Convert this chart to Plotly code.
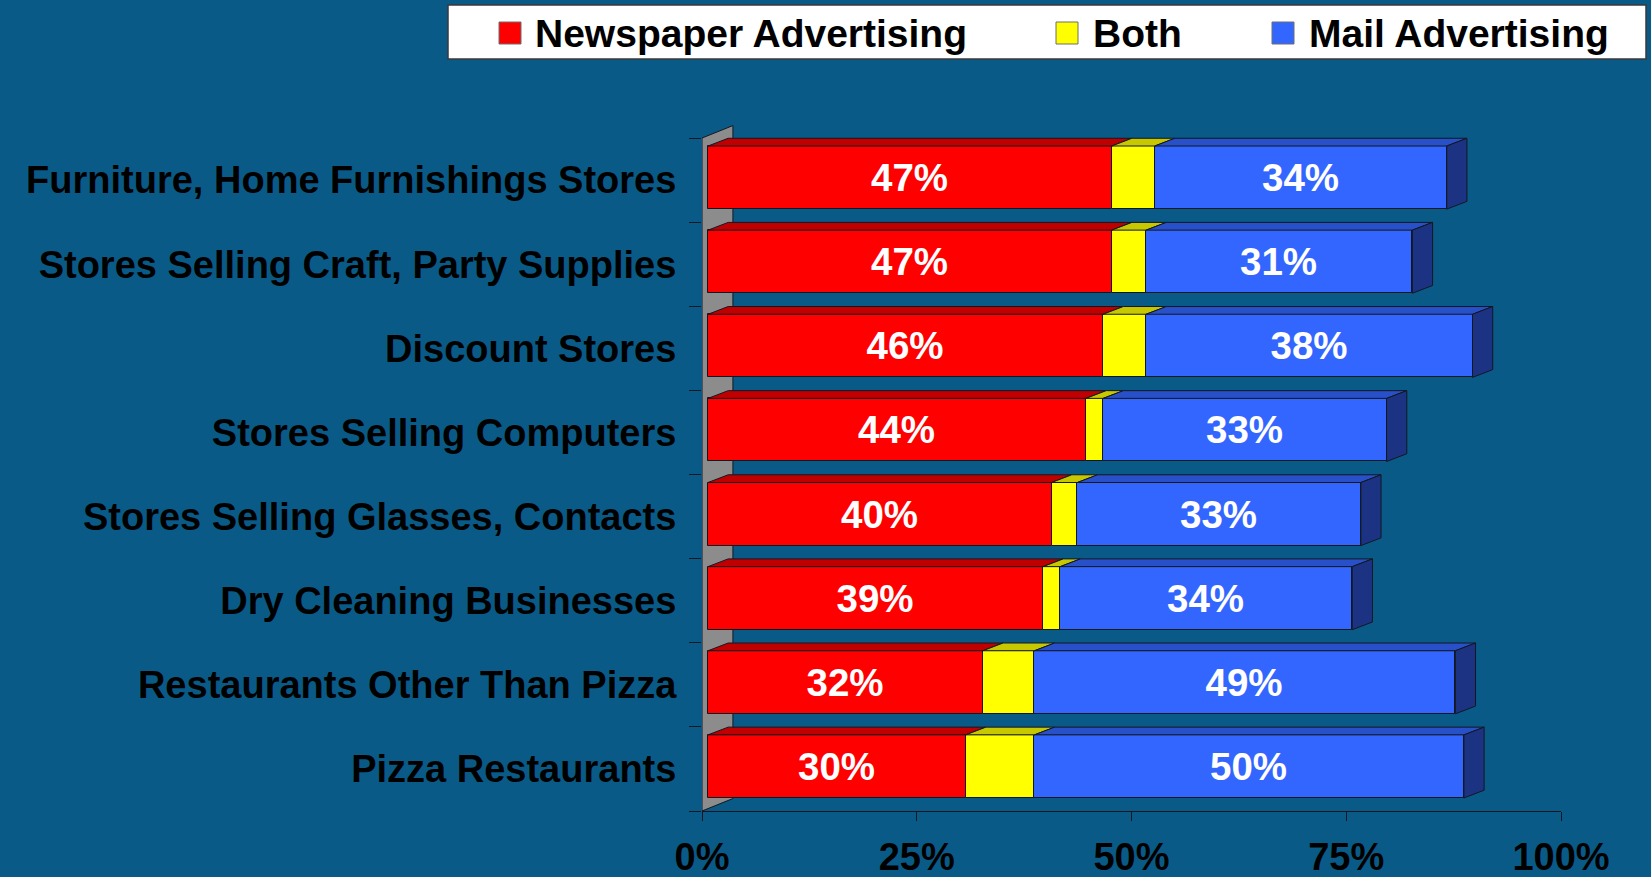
import plotly.graph_objects as go

# ---- data -------------------------------------------------------------
categories = [
    "Furniture, Home Furnishings Stores",
    "Stores Selling Craft, Party Supplies",
    "Discount Stores",
    "Stores Selling Computers",
    "Stores Selling Glasses, Contacts",
    "Dry Cleaning Businesses",
    "Restaurants Other Than Pizza",
    "Pizza Restaurants",
]
newspaper = [47, 47, 46, 44, 40, 39, 32, 30]
both = [5, 4, 5, 2, 3, 2, 6, 8]
mail = [34, 31, 38, 33, 33, 34, 49, 50]
series_names = ["Newspaper Advertising", "Both", "Mail Advertising"]
x_ticks = [0, 25, 50, 75, 100]
x_tick_labels = ["0%", "25%", "50%", "75%", "100%"]

# ---- styling ----------------------------------------------------------
W, H = 1651, 877
ML, MR, MT, MB = 702, 90, 117, 66
PW, PH = W - ML - MR, H - MT - MB
BG = "#0A5A87"
EDGE = "#131722"
WALL = "#8C8C8C"
FRONT = ["#FF0000", "#FFFF00", "#3366FF"]
TOP = ["#C00000", "#C8C800", "#2850C8"]
SIDE = "#1C3383"
FONT = "Liberation Sans, Arial, sans-serif"
FS = 38

# oblique projection of the depth axis, in data units
FRONT_DX, FRONT_DY = 0.7, 0.03     # front face of bars behind axis plane
DEPTH_DX, DEPTH_DY = 2.35, 0.092   # bar depth
WALL_DX, WALL_DY = 3.6, 0.148      # side wall depth
BAR_W = 0.75

n = len(categories)
pos = [n - 1 - i for i in range(n)]
Y_RANGE = [-0.5, n - 0.25]

series = [newspaper, both, mail]
starts = []
acc = [0] * n
for vals in series:
    starts.append(list(acc))
    acc = [a + v for a, v in zip(acc, vals)]

fig = go.Figure()

# front faces
for s, (name, vals) in enumerate(zip(series_names, series)):
    labels = [f"{v}%" for v in vals] if s != 1 else None
    fig.add_trace(go.Bar(
        name=name,
        orientation="h",
        y=[p + FRONT_DY for p in pos],
        x=vals,
        base=[FRONT_DX + st for st in starts[s]],
        width=BAR_W,
        marker=dict(color=FRONT[s], line=dict(color=EDGE, width=1)),
        text=labels,
        textposition="inside" if labels else "none",
        insidetextanchor="middle",
        textangle=0,
        constraintext="none",
        textfont=dict(family=FONT, size=FS + 0.5, color="white", weight="bold"),
        showlegend=False,
        hoverinfo="skip",
    ))

# top faces of every segment
for s, vals in enumerate(series):
    xs, ys = [], []
    for i in range(n):
        x0 = FRONT_DX + starts[s][i]
        x1 = x0 + vals[i]
        yf = pos[i] + FRONT_DY + BAR_W / 2
        xs += [x0, x1, x1 + DEPTH_DX, x0 + DEPTH_DX, x0, None]
        ys += [yf, yf, yf + DEPTH_DY, yf + DEPTH_DY, yf, None]
    fig.add_trace(go.Scatter(
        x=xs, y=ys, mode="lines", fill="toself", fillcolor=TOP[s],
        line=dict(color=EDGE, width=1), hoverinfo="skip", showlegend=False,
    ))

# right end faces of the stacks
xs, ys = [], []
for i in range(n):
    xe = FRONT_DX + acc[i]
    yb = pos[i] + FRONT_DY - BAR_W / 2
    yt = pos[i] + FRONT_DY + BAR_W / 2
    xs += [xe, xe, xe + DEPTH_DX, xe + DEPTH_DX, xe, None]
    ys += [yb, yt, yt + DEPTH_DY, yb + DEPTH_DY, yb, None]
fig.add_trace(go.Scatter(
    x=xs, y=ys, mode="lines", fill="toself", fillcolor=SIDE,
    line=dict(color=EDGE, width=1), hoverinfo="skip", showlegend=False,
))

# side wall behind the category axis
y0, y1 = -0.5, n - 0.5
wall_path = (f"M 0,{y0} L 0,{y1} L {WALL_DX},{y1 + WALL_DY} "
             f"L {WALL_DX},{y0 + WALL_DY} Z")
shapes = [dict(type="path", path=wall_path, xref="x", yref="y",
               fillcolor=WALL, line=dict(color=EDGE, width=1), layer="below")]


# legend box drawn in pixel units converted to paper coordinates
def px(xp):
    return (xp - ML) / PW


def py(yp):
    return (H - MB - yp) / PH


shapes.append(dict(type="rect", xref="paper", yref="paper",
                   x0=px(448), x1=px(1646), y0=py(59), y1=py(5),
                   fillcolor="white", line=dict(color="#3a3a3a", width=1.5)))
legend_items = [(499, 533), (1056, 1091), (1272, 1307)]
annotations = []
for s, (sq_x, tx) in enumerate(legend_items):
    shapes.append(dict(type="rect", xref="paper", yref="paper",
                       x0=px(sq_x), x1=px(sq_x + 22), y0=py(44), y1=py(22),
                       fillcolor=FRONT[s], line=dict(color="#6e6e6e", width=1)))
    annotations.append(dict(xref="paper", yref="paper", x=px(tx), y=py(33),
                            xanchor="left", yanchor="middle", showarrow=False,
                            text=series_names[s],
                            font=dict(family=FONT, size=FS + 1, color="black",
                                      weight="bold")))

fig.update_layout(
    width=W, height=H, autosize=False,
    margin=dict(l=ML, r=MR, t=MT, b=MB, pad=0),
    paper_bgcolor=BG, plot_bgcolor=BG,
    barmode="overlay",
    bargap=0,
    shapes=shapes,
    annotations=annotations,
    showlegend=False,
    xaxis=dict(
        range=[0, 100], tickmode="array", tickvals=x_ticks,
        ticktext=x_tick_labels, ticks="outside", ticklen=9, tickwidth=1,
        tickcolor=EDGE, showline=True, linecolor=EDGE, linewidth=1,
        showgrid=False, zeroline=False, ticklabelstandoff=3,
        automargin=False,
        tickfont=dict(family=FONT, size=FS, color="black", weight="bold"),
        fixedrange=True,
    ),
    yaxis=dict(
        range=Y_RANGE, tickmode="array", tickvals=pos, ticktext=categories,
        ticks="outside", ticklen=12, tickcolor="rgba(0,0,0,0)",
        minor=dict(tickmode="array",
                   tickvals=[k - 0.5 for k in range(n + 1)],
                   ticks="outside", ticklen=12, tickwidth=1, tickcolor=EDGE,
                   showgrid=False),
        showline=False, showgrid=False, zeroline=False,
        ticklabelstandoff=5, automargin=False,
        tickfont=dict(family=FONT, size=FS, color="black", weight="bold"),
        fixedrange=True,
    ),
)

fig.write_html("out.html")
